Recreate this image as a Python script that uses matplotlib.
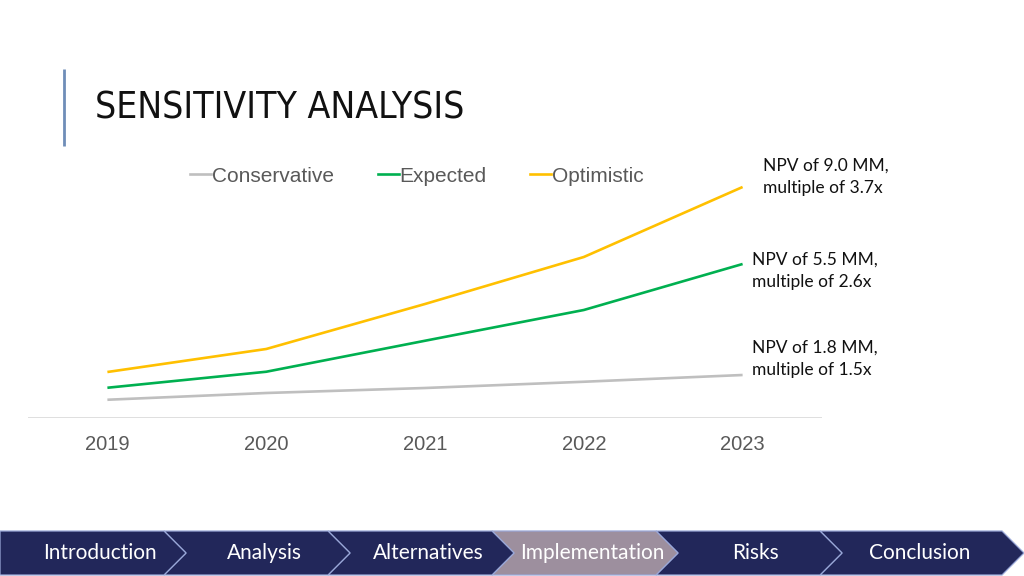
import matplotlib
matplotlib.use("Agg")
import matplotlib.pyplot as plt
from matplotlib import font_manager
from matplotlib.patches import Polygon
from matplotlib.lines import Line2D

# --- data (arbitrary units ~ MM) ---
years = ["2019", "2020", "2021", "2022", "2023"]
conservative = [0.73, 1.00, 1.20, 1.45, 1.72]
expected = [1.21, 1.85, 3.09, 4.32, 6.16]
optimistic = [1.84, 2.76, 4.56, 6.44, 9.24]
series_names = ["Conservative", "Expected", "Optimistic"]
end_notes = [
    "NPV of 1.8 MM,\nmultiple of 1.5x",
    "NPV of 5.5 MM,\nmultiple of 2.6x",
    "NPV of 9.0 MM,\nmultiple of 3.7x",
]
nav_labels = ["Introduction", "Analysis", "Alternatives", "Implementation", "Risks", "Conclusion"]
nav_active = 3

colors = ["#bfbfbf", "#00b050", "#ffc000"]
W, H = 1024, 576

fig = plt.figure(figsize=(W / 100, H / 100), dpi=100)
fig.patch.set_facecolor("white")

# overlay in pixel coords for slide decorations
bg = fig.add_axes([0, 0, 1, 1])
bg.set_xlim(0, W)
bg.set_ylim(H, 0)
bg.axis("off")

bg.plot([64, 64], [69, 146], color="#6f8db8", lw=2, solid_capstyle="butt")

# narrow regular-weight font for the title if one is around
cond = [f for f in font_manager.fontManager.ttflist
        if ("ondensed" in f.fname or "Narrow" in f.name
            or f.stretch in ("condensed", "semi-condensed"))
        and f.weight in (400, "normal", "regular") and f.style == "normal"]
if cond:
    title_fp = font_manager.FontProperties(fname=cond[0].fname, size=30)
else:
    title_fp = font_manager.FontProperties(family="DejaVu Sans", size=30)
title = bg.text(95, 108, "SENSITIVITY ANALYSIS", fontproperties=title_fp, color="#111111",
                va="center", ha="left")
# shrink to the width the title takes on the slide
fig.canvas.draw()
wpx = title.get_window_extent().width
if wpx > 370:
    title_fp.set_size(30 * 370 / wpx)
    title.set_fontproperties(title_fp)

# chevron nav bar
top, bot, mid = 531, 575, 553
step, depth = 164, 22
for i, lab in enumerate(nav_labels):
    x0 = i * step
    x1 = x0 + step
    if i == 0:
        pts = [(x0, top), (x1, top), (x1 + depth, mid), (x1, bot), (x0, bot)]
    elif i == len(nav_labels) - 1:
        x1 = W - depth
        pts = [(x0, top), (x1, top), (W, mid), (x1, bot), (x0, bot), (x0 + depth, mid)]
    else:
        pts = [(x0, top), (x1, top), (x1 + depth, mid), (x1, bot), (x0, bot), (x0 + depth, mid)]
    fc = "#9d8f9e" if i == nav_active else "#22275a"
    bg.add_patch(Polygon(pts, closed=True, facecolor=fc, edgecolor="#9aa8d8", lw=0.9,
                         zorder=2 + (len(nav_labels) - i)))
    bg.text(x0 + step / 2 + 18, mid, lab, color="white", fontsize=15,
            family="Lato", ha="center", va="center", zorder=20)

# chart
ax = fig.add_axes([28 / W, (H - 418) / H, (822 - 28) / W, (418 - 160) / H])
x = list(range(len(years)))
all_series = [conservative, expected, optimistic]
for vals, name, c in zip(all_series, series_names, colors):
    ax.plot(x, vals, color=c, lw=1.9, label=name, solid_capstyle="butt")

ax.set_xlim(-0.5, len(years) - 0.5)
ax.set_ylim(0, 258 / 25)
ax.axhline(0, color="#d9d9d9", lw=1.2, zorder=0)
for s in ax.spines.values():
    s.set_visible(False)
ax.set_yticks([])
ax.set_xticks(x)
ax.set_xticklabels(years, fontsize=14.5, color="#595959", family="Liberation Sans")
ax.tick_params(axis="x", length=0, pad=12)
ax.patch.set_alpha(0)

offsets = [(9, 16), (9, -7), (20, 10)]
for vals, note, (dx, dy) in zip(all_series, end_notes, offsets):
    ax.annotate(note, xy=(x[-1], vals[-1]), xytext=(dx, dy), textcoords="offset pixels",
                ha="left", va="center", fontsize=12.5, family="Lato", color="#111111",
                linespacing=1.45)

handles = [Line2D([], [], color=c, lw=1.9) for c in colors]
fig.legend(handles, series_names, loc="center", bbox_to_anchor=(417 / W, 1 - 176 / H),
           ncol=3, frameon=False, handlelength=1.0, handletextpad=0.05,
           columnspacing=2.1, prop={"family": "Liberation Sans", "size": 15},
           labelcolor="#595959")

fig.savefig("out.png", dpi=100, facecolor="white")
